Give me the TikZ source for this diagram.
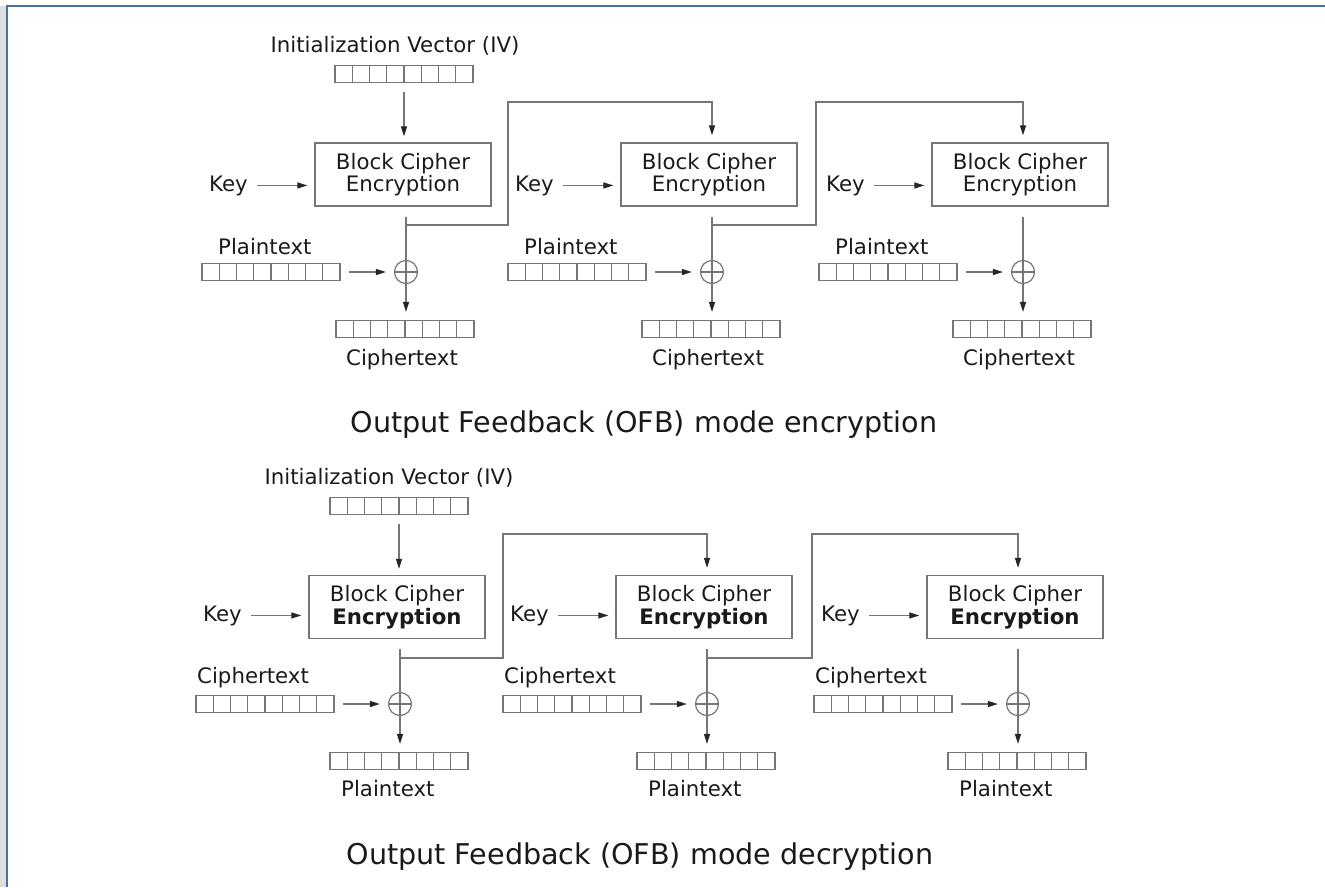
\documentclass[tikz,border=0pt]{standalone}
\usepackage{fontspec}
\setmainfont{DejaVu Sans}
\usetikzlibrary{arrows.meta}
\definecolor{linegray}{HTML}{767676}
\definecolor{framecol}{HTML}{4A6EA8}
\definecolor{inkcol}{HTML}{1A1A1A}
\definecolor{stripgray}{HTML}{DEDEDE}

\begin{document}
\begin{tikzpicture}[x=1pt,y=-1pt,
  lbl/.style={font=\fontsize{21.3pt}{22.5pt}\selectfont, text=inkcol, inner sep=0pt},
  ttl/.style={font=\fontsize{28.6pt}{30pt}\selectfont, text=inkcol, inner sep=0pt, anchor=base},
  cipherbox/.style={lbl, draw=linegray, line width=1.3pt, minimum width=176pt,
    minimum height=63pt, inner sep=0pt, align=center},
  regbox/.style={draw=linegray, line width=1.2pt, minimum width=138pt,
    minimum height=17pt, inner sep=0pt,
    path picture={\foreach \i in {1,...,7}{
      \draw[linegray, line width=1.2pt]
        ([xshift=\i*17.25pt]path picture bounding box.south west) --
        ([xshift=\i*17.25pt]path picture bounding box.north west);}}},
  xorc/.style={circle, draw=linegray, line width=1.2pt, minimum size=23pt, inner sep=0pt,
    path picture={\draw[linegray, line width=1.2pt]
      (path picture bounding box.west) -- (path picture bounding box.east);}},
  wire/.style={draw=linegray, line width=1.2pt},
  arr/.style={wire, -{Triangle[length=10pt,width=6pt,color=black!85]}}
]
\useasboundingbox (0,0) rectangle (1325,887);

% window frame
\fill[stripgray] (0,6) rectangle (6,887);
\draw[framecol, line width=2pt] (7,887) -- (7,6) -- (1325,6);

% ---------------- encryption ----------------
\node[lbl, anchor=base] (tivl) at (395,52) {Initialization Vector (IV)};
\node[regbox] (tiv) at (404,74) {};

\foreach \n/\X in {1/406,2/712,3/1023}{
  \node[cipherbox] (tbox\n) at (\X-3,174.5) {Block Cipher\\Encryption};
  \node[lbl, anchor=base west] (tkey\n) at (\X-197,191) {Key};
  \draw[arr, shorten <=9pt, shorten >=7pt] (tkey\n.east) -- (tkey\n.east -| tbox\n.west);
  \coordinate (tt\n) at (\X,217);
  \node[xorc] (tx\n) at (\X,272) {};
  \node[regbox] (tc\n) at (\X-1,329) {};
  \draw[arr, shorten >=8pt] (tt\n) -- (tt\n |- tc\n.north);
  \node[regbox] (tp\n) at (\X-135,272) {};
  \draw[arr, shorten <=8pt, shorten >=8pt] (tp\n.east) -- (tx\n.west);
  \node[lbl, anchor=base west] (tpl\n) at (\X-188,254) {Plaintext};
  \node[lbl, anchor=base west] (tcl\n) at (\X-60,365) {Ciphertext};
}
\draw[arr, shorten <=9pt, shorten >=6pt] (tiv.south) -- (tiv.south |- tbox1.north);

% output feedback
\coordinate (tb1) at (406,225);
\coordinate (tu1) at (508,102);
\coordinate (tb2) at (712,225);
\coordinate (tu2) at (816,102);
\draw[arr, shorten >=7pt] (tb1) -| (tu1) -| (tbox2.north -| tt2);
\draw[arr, shorten >=7pt] (tb2) -| (tu2) -| (tbox3.north -| tt3);

\node[ttl] (ttitle) at (644,432) {Output Feedback (OFB) mode encryption};

% ---------------- decryption ----------------
\node[lbl, anchor=base] (bivl) at (389,484) {Initialization Vector (IV)};
\node[regbox] (biv) at (399,506) {};

\foreach \n/\X in {1/400,2/707,3/1018}{
  \node[cipherbox] (bbox\n) at (\X-3,607) {Block Cipher\\\textbf{Encryption}};
  \node[lbl, anchor=base west] (bkey\n) at (\X-197,621) {Key};
  \draw[arr, shorten <=9pt, shorten >=7pt] (bkey\n.east) -- (bkey\n.east -| bbox\n.west);
  \coordinate (bt\n) at (\X,649);
  \node[xorc] (bx\n) at (\X,704) {};
  \node[regbox] (bp\n) at (\X-1,761) {};
  \draw[arr, shorten >=8pt] (bt\n) -- (bt\n |- bp\n.north);
  \node[regbox] (bc\n) at (\X-135,704) {};
  \draw[arr, shorten <=8pt, shorten >=8pt] (bc\n.east) -- (bx\n.west);
  \node[lbl, anchor=base west] (bcl\n) at (\X-203,683) {Ciphertext};
  \node[lbl, anchor=base west] (bpl\n) at (\X-59,796) {Plaintext};
}
\draw[arr, shorten <=9pt, shorten >=6pt] (biv.south) -- (biv.south |- bbox1.north);

% output feedback
\coordinate (bb1) at (400,658);
\coordinate (bu1) at (503,534);
\coordinate (bb2) at (707,658);
\coordinate (bu2) at (812,534);
\draw[arr, shorten >=7pt] (bb1) -| (bu1) -| (bbox2.north -| bt2);
\draw[arr, shorten >=7pt] (bb2) -| (bu2) -| (bbox3.north -| bt3);

\node[ttl] (btitle) at (640,864) {Output Feedback (OFB) mode decryption};
\end{tikzpicture}
\end{document}
